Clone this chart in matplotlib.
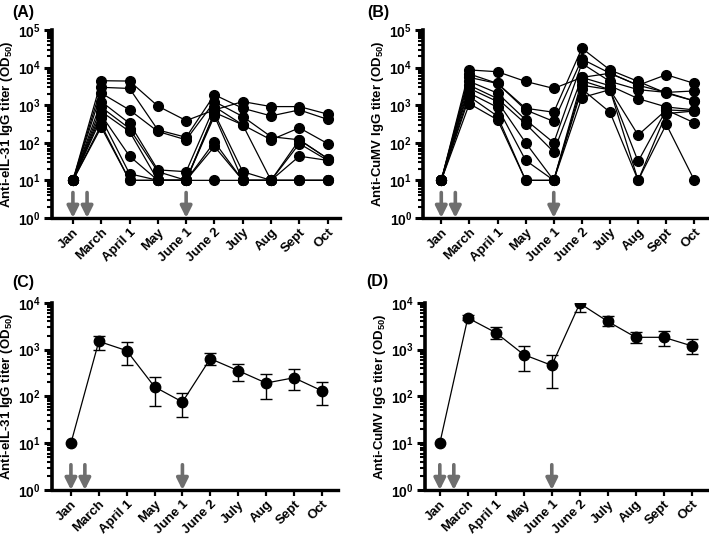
import matplotlib.pyplot as plt
import numpy as np

plt.rcParams['font.family'] = ['Liberation Sans', 'DejaVu Sans']
plt.rcParams['font.weight'] = 'bold'
plt.rcParams['mathtext.fontset'] = 'custom'
plt.rcParams['mathtext.rm'] = 'Liberation Sans:bold'
plt.rcParams['mathtext.bf'] = 'Liberation Sans:bold'
plt.rcParams['mathtext.it'] = 'Liberation Sans:bold'

months = ["Jan", "March", "April 1", "May", "June 1", "June 2", "July", "Aug", "Sept", "Oct"]
arrow_pos = [0, 0.5, 4]

# individual horses, anti-eIL-31
il31_horses = [
    [10, 4500, 4400, 950, 390, 750, 1250, 920, 920, 580],
    [10, 3000, 2800, 220, 140, 1900, 830, 520, 750, 420],
    [10, 2100, 750, 200, 120, 1250, 500, 145, 120, 38],
    [10, 1250, 330, 19, 17, 920, 300, 120, 250, 95],
    [10, 890, 240, 17, 10, 610, 17, 10, 95, 34],
    [10, 680, 200, 10, 10, 520, 10, 10, 44, 34],
    [10, 550, 44, 10, 10, 105, 10, 10, 120, 38],
    [10, 450, 15, 10, 10, 80, 10, 10, 10, 10],
    [10, 260, 10, 10, 10, 10, 10, 10, 10, 10],
    [10, 300, 10, 10, 10, 640, 300, 10, 10, 10],
]

# individual horses, anti-CuMV
cumv_horses = [
    [10, 8700, 7800, 4300, 2800, 5500, 7100, 3400, 2200, 1300],
    [10, 6800, 3800, 830, 650, 33000, 8700, 4300, 2100, 1300],
    [10, 5500, 3800, 750, 370, 17000, 7100, 3400, 6500, 3800],
    [10, 4300, 2100, 410, 100, 13000, 4300, 2600, 2200, 2400],
    [10, 3400, 1500, 320, 57, 5500, 3300, 1500, 900, 750],
    [10, 2800, 1250, 100, 10, 4500, 2600, 160, 750, 700],
    [10, 2100, 880, 34, 10, 3400, 2600, 32, 750, 340],
    [10, 1700, 510, 10, 10, 2700, 650, 10, 310, 10],
    [10, 1100, 410, 10, 10, 1600, 2600, 10, 600, 700],
]

# group means with error bar limits
il31_mean = [10, 1500, 950, 160, 76, 640, 355, 193, 250, 132]
il31_hi = [10, 2000, 1450, 260, 118, 850, 490, 300, 380, 200]
il31_lo = [10, 1000, 460, 61, 37, 460, 213, 90, 135, 66]

cumv_mean = [10, 4750, 2300, 780, 460, 9700, 4000, 1830, 1830, 1200]
cumv_hi = [10, 5400, 3000, 1200, 780, 11000, 5200, 2400, 2500, 1650]
cumv_lo = [10, 4200, 1650, 350, 150, 6400, 3200, 1400, 1200, 800]


def style_axis(ax, ymax_exp, xlim, ylabel):
    ax.set_yscale('log')
    ax.set_ylim(1, 10 ** ymax_exp)
    ax.set_xlim(*xlim)
    for s in ['top', 'right']:
        ax.spines[s].set_visible(False)
    ax.spines['left'].set_linewidth(2.6)
    ax.spines['bottom'].set_linewidth(2.4)
    ticks = [10 ** i for i in range(ymax_exp + 1)]
    ax.set_yticks(ticks)
    ax.set_yticklabels([r'$\mathbf{10^{%d}}$' % i for i in range(ymax_exp + 1)], fontsize=10)
    ax.yaxis.set_minor_locator(plt.matplotlib.ticker.LogLocator(base=10, subs=np.arange(2, 10)))
    ax.yaxis.set_minor_formatter(plt.matplotlib.ticker.NullFormatter())
    ax.tick_params(axis='y', which='major', length=6, width=2.2, pad=2)
    ax.tick_params(axis='y', which='minor', length=3.5, width=1.5)
    ax.set_xticks(range(len(months)))
    ax.set_xticklabels(months, rotation=45, ha='right', rotation_mode='anchor', fontsize=9.5, fontweight='bold')
    ax.tick_params(axis='x', length=4, width=1.6, pad=2)
    ax.set_ylabel(ylabel, fontsize=9.5, fontweight='bold', labelpad=2)
    for x in arrow_pos:
        ax.annotate('', xy=(x, 1), xytext=(x, 10 ** (ymax_exp * 0.135)),
                    arrowprops=dict(arrowstyle='-|>', color='#6e6e6e', lw=2.6,
                                    mutation_scale=17, shrinkA=0, shrinkB=0),
                    annotation_clip=False)


fig = plt.figure(figsize=(7.09, 5.38), dpi=100)
ax_a = fig.add_axes([0.0733, 0.595, 0.406, 0.349])
ax_b = fig.add_axes([0.597, 0.595, 0.4006, 0.349])
ax_c = fig.add_axes([0.0733, 0.0892, 0.403, 0.348])
ax_d = fig.add_axes([0.599, 0.0892, 0.398, 0.348])

x = np.arange(len(months))

for h in il31_horses:
    ax_a.plot(x, h, color='black', lw=0.9, marker='o', markersize=7, zorder=3)
for h in cumv_horses:
    ax_b.plot(x, h, color='black', lw=0.9, marker='o', markersize=7, zorder=3)

for ax, mean, lo, hi in [(ax_c, il31_mean, il31_lo, il31_hi), (ax_d, cumv_mean, cumv_lo, cumv_hi)]:
    mean = np.array(mean)
    err = [mean - np.array(lo), np.array(hi) - mean]
    ax.errorbar(x[1:], mean[1:], yerr=[err[0][1:], err[1][1:]], fmt='none', ecolor='black',
                elinewidth=1.0, capsize=4, capthick=1.0, zorder=2)
    ax.plot(x, mean, color='black', lw=0.9, marker='o', markersize=7.5, zorder=3)

style_axis(ax_a, 5, (-0.74, 9.43), r'Anti-eIL-31 IgG titer (OD$_{\mathbf{50}}$)')
style_axis(ax_b, 5, (-0.64, 9.46), r'Anti-CuMV IgG titer (OD$_{\mathbf{50}}$)')
style_axis(ax_c, 4, (-0.68, 9.57), r'Anti-eIL-31 IgG titer (OD$_{\mathbf{50}}$)')
style_axis(ax_d, 4, (-0.54, 9.54), r'Anti-CuMV IgG titer (OD$_{\mathbf{50}}$)')

# panel letters
for letter, px, py in [('(A)', 12, 5), ('(B)', 367, 5), ('(C)', 12, 275), ('(D)', 366, 274)]:
    fig.text(px / 709, 1 - py / 538, letter, fontsize=11.5, fontweight='bold', va='top', ha='left')

fig.savefig('out.png', dpi=100)
